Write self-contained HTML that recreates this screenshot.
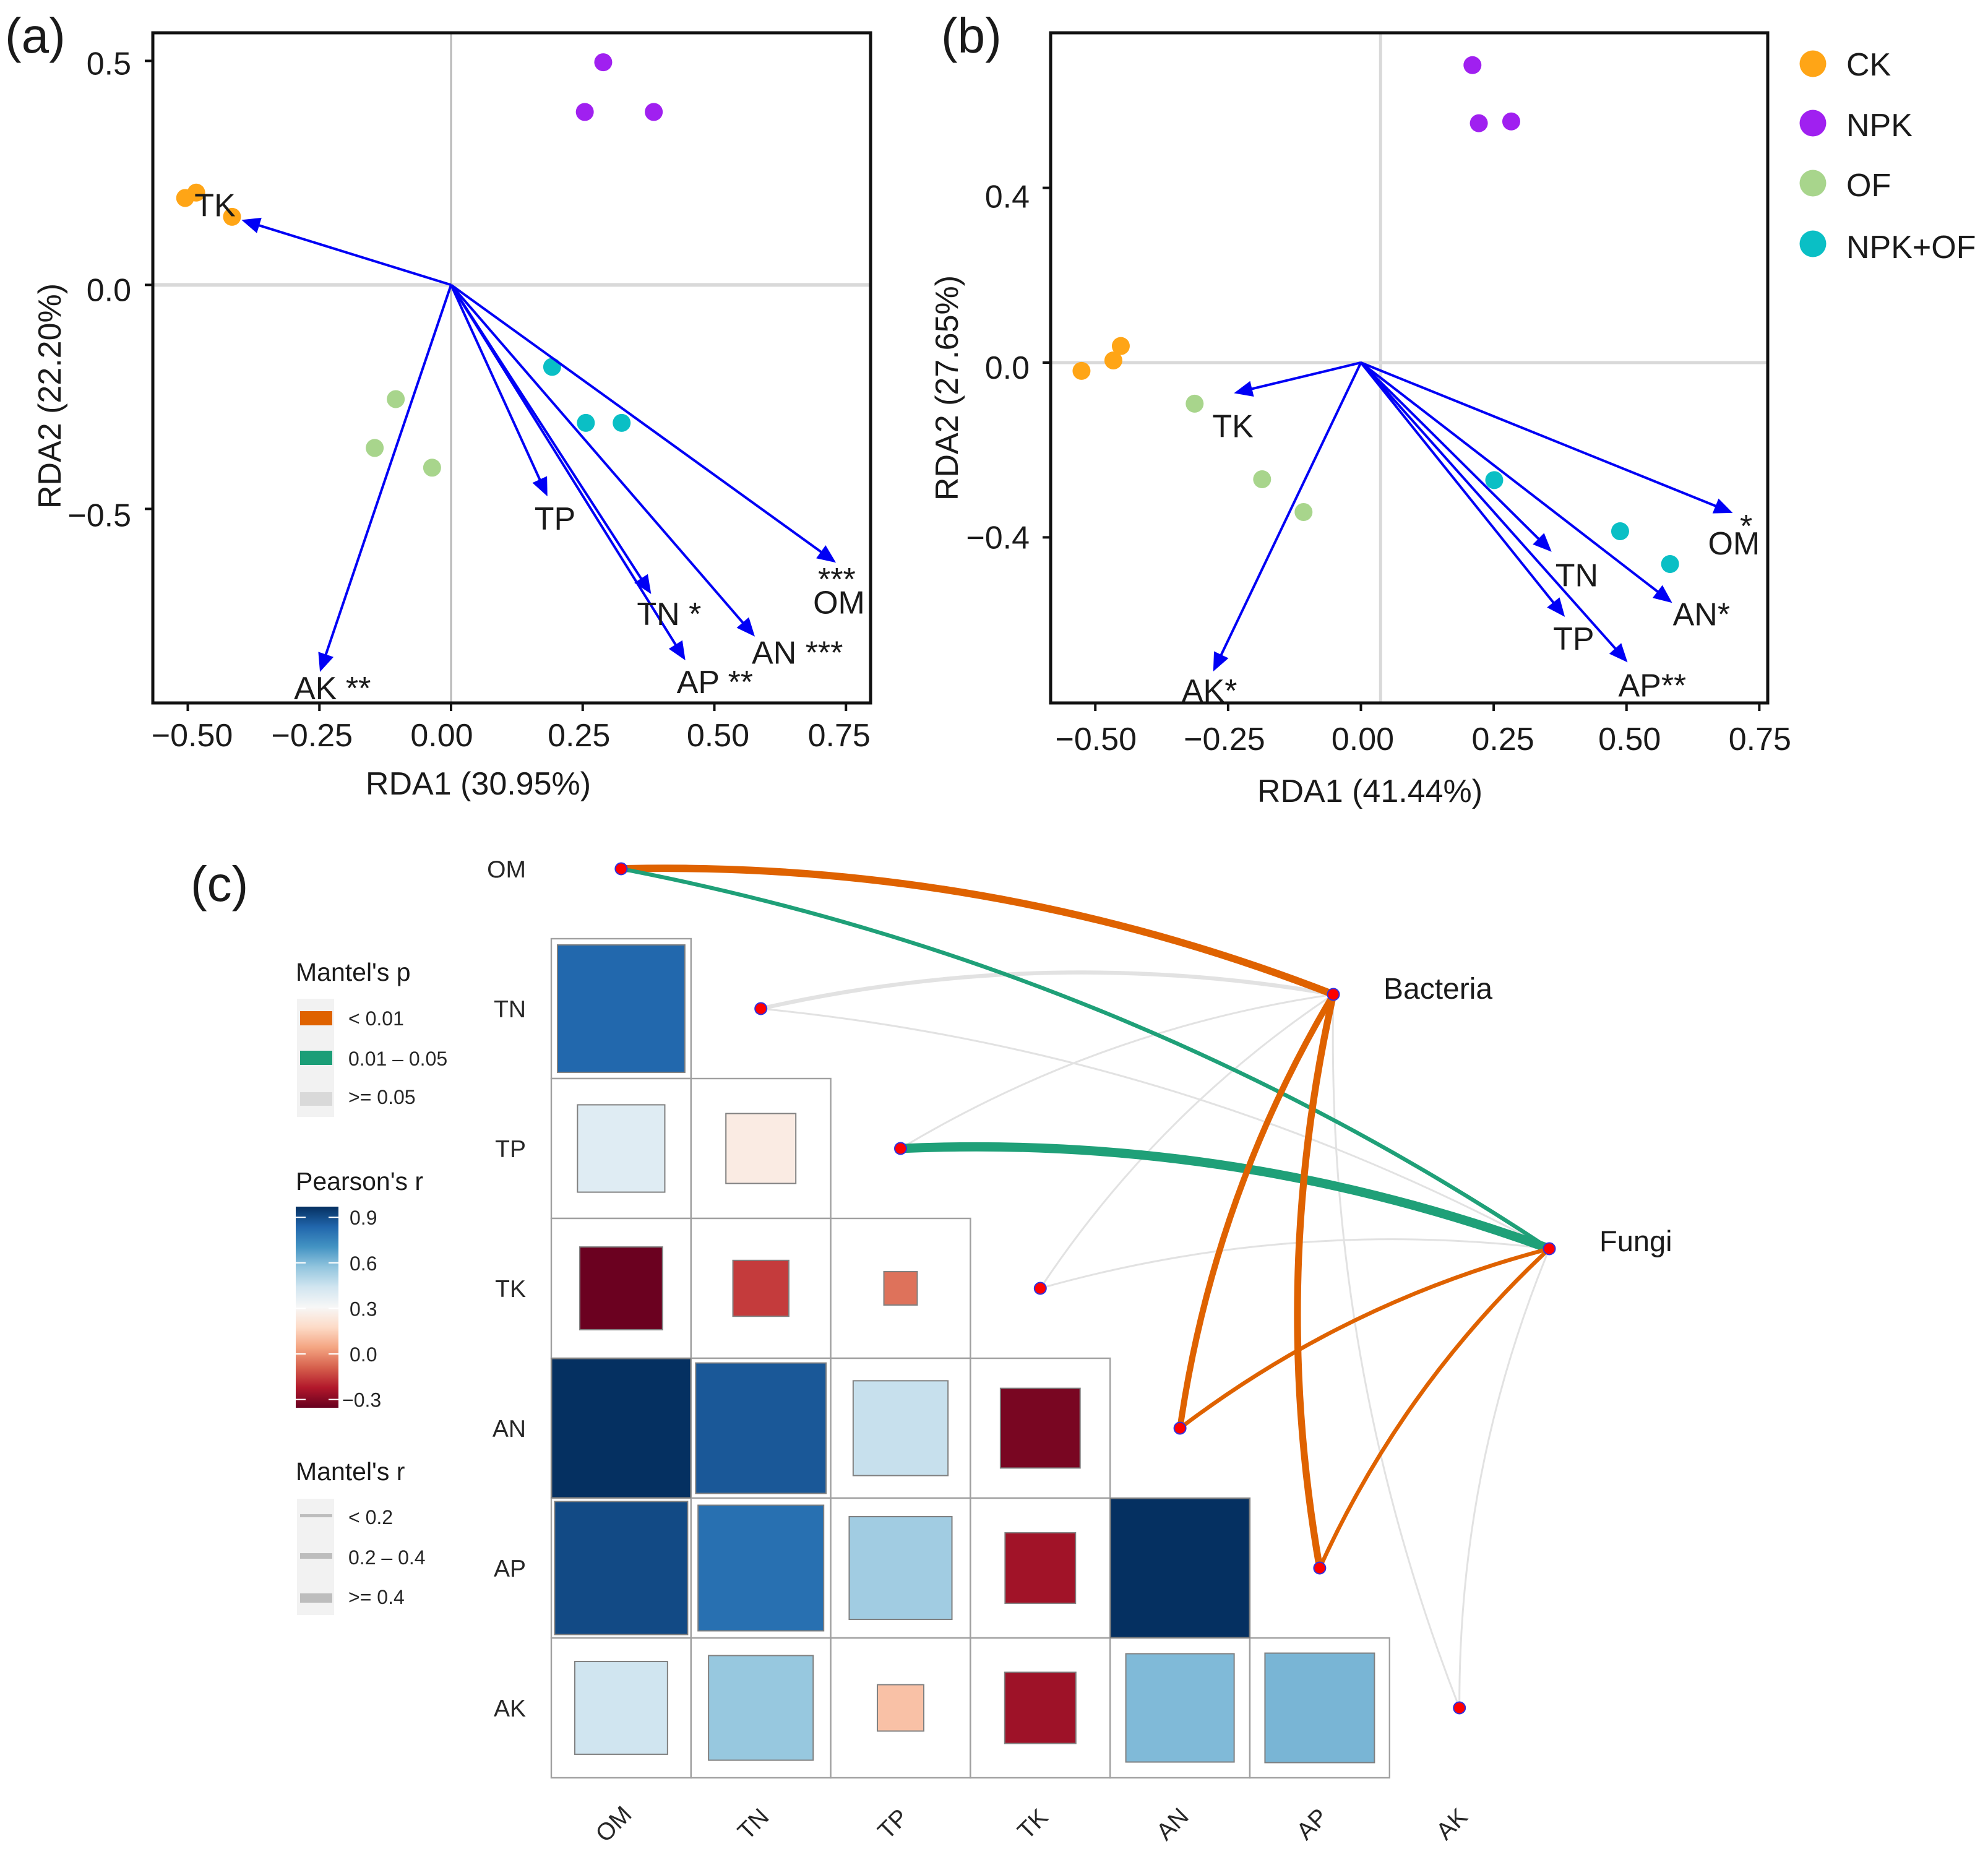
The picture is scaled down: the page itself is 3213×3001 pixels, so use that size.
<!DOCTYPE html>
<html lang="en">
<head>
<meta charset="utf-8">
<title>RDA and Mantel test figure</title>
<style>
  html, body { margin: 0; padding: 0; background: #fff; }
  svg { display: block; }
  text { font-family: "Liberation Sans", sans-serif; fill: #1a1a1a; }
  .panel { font-size: 80px; }
  .tick { font-size: 52px; }
  .title { font-size: 52px; }
  .ltitle { font-size: 41px; }
  .lkey { font-size: 32px; fill: #262626; }
  .var { font-size: 39px; fill: #262626; }
</style>
</head>
<body>
<svg id="fig" xmlns="http://www.w3.org/2000/svg" width="3213" height="3001" viewBox="0 0 3213 3001">
  <defs id="defs"></defs>
  <rect x="0" y="0" width="3213" height="3001" fill="#fff"/>

  <text class="panel" x="8" y="85">(a)</text>
  <text class="panel" x="1521" y="85">(b)</text>
  <text class="panel" x="308" y="1456">(c)</text>

  <g id="panelA"></g>
  <g id="panelB"></g>

  <text class="title" x="773" y="1284" text-anchor="middle">RDA1 (30.95%)</text>
  <text class="title" transform="translate(98 640) rotate(-90)" text-anchor="middle">RDA2 (22.20%)</text>
  <text class="title" x="2214" y="1296" text-anchor="middle">RDA1 (41.44%)</text>
  <text class="title" transform="translate(1548 627) rotate(-90)" text-anchor="middle">RDA2 (27.65%)</text>

  <g>
    <circle cx="2930" cy="103" r="21.5" fill="#FFA516"/>
    <text class="tick" x="2984" y="122">CK</text>
    <circle cx="2930" cy="199" r="21.5" fill="#A020F0"/>
    <text class="tick" x="2984" y="220">NPK</text>
    <circle cx="2930" cy="296" r="21.5" fill="#A8D58C"/>
    <text class="tick" x="2984" y="317">OF</text>
    <circle cx="2930" cy="394" r="21.5" fill="#0ABFC5"/>
    <text class="tick" x="2984" y="417">NPK+OF</text>
  </g>

  <g id="panelC"></g>

  <g>
    <text class="ltitle" x="478" y="1585">Mantel's p</text>
    <rect x="480" y="1614" width="60" height="191" fill="#f2f2f2"/>
    <rect x="485" y="1634" width="52" height="23" fill="#DF6200"/>
    <rect x="485" y="1698" width="52" height="23" fill="#1B9E77"/>
    <rect x="485" y="1765" width="52" height="22" fill="#d9d9d9"/>
    <text class="lkey" x="563" y="1657">&lt; 0.01</text>
    <text class="lkey" x="563" y="1722">0.01 – 0.05</text>
    <text class="lkey" x="563" y="1784">&gt;= 0.05</text>
  </g>

  <g id="colorbar">
    <text class="ltitle" x="478" y="1923">Pearson's r</text>
  </g>

  <g>
    <text class="ltitle" x="478" y="2392">Mantel's r</text>
    <rect x="480" y="2422" width="60" height="188" fill="#f2f2f2"/>
    <rect x="485" y="2447" width="52" height="5" fill="#bdbdbd"/>
    <rect x="485" y="2510" width="52" height="9" fill="#bdbdbd"/>
    <rect x="485" y="2575" width="52" height="15" fill="#bdbdbd"/>
    <text class="lkey" x="563" y="2463">&lt; 0.2</text>
    <text class="lkey" x="563" y="2528">0.2 – 0.4</text>
    <text class="lkey" x="563" y="2592">&gt;= 0.4</text>
  </g>
</svg>

<script>
/* ---------- Panel (a) data ---------- */
var groupNames = ['CK', 'NPK', 'OF', 'NPK+OF'];
var sitesAx = [[-0.505, -0.484, -0.416], [0.289, 0.254, 0.385], [-0.105, -0.145, -0.036], [0.192, 0.256, 0.324]];
var sitesAy = [[0.194, 0.206, 0.152], [0.497, 0.386, 0.386], [-0.255, -0.364, -0.408], [-0.183, -0.308, -0.308]];
var arrowNames = ['TK', 'OM', 'AN', 'AP', 'TN', 'TP', 'AK'];
var arrowsAx = [-0.398, 0.731, 0.577, 0.445, 0.380, 0.183, -0.249];
var arrowsAy = [0.145, -0.620, -0.785, -0.838, -0.690, -0.472, -0.864];
var arrowLabelsA = ['TK', 'OM', 'AN ***', 'AP **', 'TN *', 'TP', 'AK **'];
var xTicksA = [-0.5, -0.25, 0, 0.25, 0.5, 0.75];
var xTickLabelsA = ['\u22120.50', '\u22120.25', '0.00', '0.25', '0.50', '0.75'];
var yTicksA = [0.5, 0, -0.5];
var yTickLabelsA = ['0.5', '0.0', '\u22120.5'];

/* ---------- Panel (b) data ---------- */
var sitesBx = [[-0.452, -0.466, -0.526], [0.210, 0.222, 0.283], [-0.313, -0.186, -0.108], [0.251, 0.488, 0.582]];
var sitesBy = [[0.038, 0.005, -0.019], [0.681, 0.548, 0.552], [-0.094, -0.267, -0.342], [-0.269, -0.386, -0.461]];
var arrowsBx = [-0.239, 0.700, 0.586, 0.502, 0.359, 0.384, -0.278];
var arrowsBy = [-0.070, -0.344, -0.550, -0.686, -0.433, -0.582, -0.707];
var arrowLabelsB = ['TK', 'OM', 'AN*', 'AP**', 'TN', 'TP', 'AK*'];
var xTicksB = [-0.5, -0.25, 0, 0.25, 0.5, 0.75];
var xTickLabelsB = ['\u22120.50', '\u22120.25', '0.00', '0.25', '0.50', '0.75'];
var yTicksB = [0.4, 0, -0.4];
var yTickLabelsB = ['0.4', '0.0', '\u22120.4'];

/* ---------- Panel (c) data ---------- */
var variables = ['OM', 'TN', 'TP', 'TK', 'AN', 'AP', 'AK'];
var rTN = [0.83];
var rTP = [0.39, 0.25];
var rTK = [-0.35, -0.16, -0.057];
var rAN = [0.99, 0.87, 0.46, -0.325];
var rAP = [0.905, 0.807, 0.54, -0.254, 0.99];
var rAK = [0.44, 0.56, 0.11, -0.259, 0.60, 0.613];
var linkSources = ['TN', 'TN', 'TP', 'TK', 'TK', 'AK', 'AK', 'OM', 'OM', 'TP', 'AN', 'AN', 'AP', 'AP'];
var linkTargets = ['Bacteria', 'Fungi', 'Bacteria', 'Bacteria', 'Fungi', 'Bacteria', 'Fungi', 'Bacteria', 'Fungi', 'Fungi', 'Bacteria', 'Fungi', 'Bacteria', 'Fungi'];
var mantelP = [0.12, 0.30, 0.40, 0.50, 0.60, 0.50, 0.50, 0.001, 0.03, 0.02, 0.002, 0.004, 0.001, 0.005];
var mantelR = [0.25, 0.10, 0.10, 0.08, 0.07, 0.08, 0.09, 0.45, 0.25, 0.50, 0.42, 0.27, 0.44, 0.28];
var colorbarTicks = [0.9, 0.6, 0.3, 0.0, -0.3];
var colorbarLabels = ['0.9', '0.6', '0.3', '0.0', '\u22120.3'];

/* ---------- Helpers ---------- */
var NS = 'http://www.w3.org/2000/svg';
function mk(parent, tag, attrs, txt) {
  var el = document.createElementNS(NS, tag);
  for (var k in attrs) { el.setAttribute(k, attrs[k]); }
  if (txt !== undefined) { el.textContent = txt; }
  parent.appendChild(el);
  return el;
}
var groupColors = ['#FFA516', '#A020F0', '#A8D58C', '#0ABFC5'];

function drawRDA(cfg) {
  var g = cfg.g;
  var X = cfg.X, Y = cfg.Y;
  var el;
  el = mk(g, 'rect', {x: cfg.L, y: cfg.T, width: cfg.R - cfg.L, height: cfg.B - cfg.T, fill: '#fff'});
  
  
  el = mk(g, 'line', {x1: cfg.L, x2: cfg.R, y1: Y(0), y2: Y(0), stroke: '#d9d9d9', 'stroke-width': cfg.hw});
  
  
  el = mk(g, 'line', {x1: X(cfg.vAt), x2: X(cfg.vAt), y1: cfg.T, y2: cfg.B, stroke: cfg.vc, 'stroke-width': cfg.vw});
  
  

  cfg.sx.forEach(function (xs, gi) {
    xs.forEach(function (v, i) {
      var c = mk(g, 'circle', {cx: X(v), cy: Y(cfg.sy[gi][i]), r: 14.5, fill: groupColors[gi]});
      
      
    });
  });

  arrowNames.forEach(function (name, i) {
    var x2 = X(cfg.ax[i]), y2 = Y(cfg.ay[i]), x1 = X(0), y1 = Y(0);
    var d = Math.hypot(x2 - x1, y2 - y1), ux = (x2 - x1) / d, uy = (y2 - y1) / d;
    var line = mk(g, 'line', {x1: x1, y1: y1, x2: x2 - ux * 14, y2: y2 - uy * 14, stroke: '#0000F5', 'stroke-width': 4});
    
    
    var bx = x2 - ux * 30, by = y2 - uy * 30, w = 13;
    var head = mk(g, 'polygon', {points: x2 + ',' + y2 + ' ' + (bx - uy * w) + ',' + (by + ux * w) + ' ' + (bx + uy * w) + ',' + (by - ux * w), fill: '#0000F5'});
    
    
    var lab = mk(g, 'text', {class: 'tick', x: x2 + cfg.ldx[i], y: y2 + cfg.ldy[i]}, cfg.labels[i]);
    
    
  });

  var fr = mk(g, 'rect', {x: cfg.L, y: cfg.T, width: cfg.R - cfg.L, height: cfg.B - cfg.T, fill: 'none', stroke: '#111', 'stroke-width': 5});
  
  

  cfg.xt.forEach(function (v, i) {
    var t = mk(g, 'line', {x1: X(v), x2: X(v), y1: cfg.B, y2: cfg.B + 13, stroke: '#111', 'stroke-width': 4});
    
    
    var l = mk(g, 'text', {class: 'tick', x: X(v) + cfg.xn[i], y: cfg.xb, 'text-anchor': 'middle'}, cfg.xl[i]);
    
    
  });
  cfg.yt.forEach(function (v, i) {
    var t = mk(g, 'line', {x1: cfg.L - 13, x2: cfg.L, y1: Y(v), y2: Y(v), stroke: '#111', 'stroke-width': 4});
    
    
    var l = mk(g, 'text', {class: 'tick', x: cfg.yr, y: Y(v) + cfg.yn[i], 'text-anchor': 'end'}, cfg.yl[i]);
    
    
  });
}

/* Panel a */
var xA = function (v) { return 729 + 851 * v; };
var yA = function (v) { return 460.4 - 724 * v; };
drawRDA({
  g: document.getElementById('panelA'), X: xA, Y: yA,
  L: 247, R: 1407, T: 53, B: 1136, hw: 6, vw: 3, vc: '#b8b8b8', vAt: 0,
  sx: sitesAx, sy: sitesAy, ax: arrowsAx, ay: arrowsAy, labels: arrowLabelsA,
  ldx: [-76, -37, -5, -14, -23, -21, -42],
  ldy: [-6, 82, 44, 53, 50, 54, 44],
  xt: xTicksA, xl: xTickLabelsA, xn: [7, -12, -15, -6, 6, -11], xb: 1206,
  yt: yTicksA, yl: yTickLabelsA, yn: [22, 26, 28], yr: 212
});
var omStarsA = mk(document.getElementById('panelA'), 'text', {class: 'tick', x: 1322, y: 954}, '***');



/* Panel b */
var xB = function (v) { return 2199.5 + 858.5 * v; };
var yB = function (v) { return 586 - 706 * v; };
drawRDA({
  g: document.getElementById('panelB'), X: xB, Y: yB,
  L: 1698, R: 2857, T: 53, B: 1136, hw: 5, vw: 5, vc: '#d9d9d9', vAt: 0.037,
  sx: sitesBx, sy: sitesBy, ax: arrowsBx, ay: arrowsBy, labels: arrowLabelsB,
  ldx: [-35, -40, 1, -15, 6, -19, -51],
  ldy: [71, 67, 36, 55, 56, 53, 49],
  xt: xTicksB, xl: xTickLabelsB, xn: [1, -6, 3, 15, 5, 1], xb: 1212,
  yt: yTicksB, yl: yTickLabelsB, yn: [32, 26, 18], yr: 1664
});
var omStarB = mk(document.getElementById('panelB'), 'text', {class: 'tick', x: 2812, y: 868}, '*');



/* Panel c */
var rdBu = ['#67001F', '#B2182B', '#D6604D', '#F4A582', '#FDDBC7', '#F7F7F7', '#D1E5F0', '#92C5DE', '#4393C3', '#2166AC', '#053061'];
var colorMin = -0.357, colorMax = 0.968;
function hexToRgb(h) { return [parseInt(h.substr(1, 2), 16), parseInt(h.substr(3, 2), 16), parseInt(h.substr(5, 2), 16)]; }
function colorOf(r) {
  var t = Math.min(1, Math.max(0, (r - colorMin) / (colorMax - colorMin))) * 10;
  var i = Math.min(9, Math.floor(t)), f = t - i;
  var a = hexToRgb(rdBu[i]), b = hexToRgb(rdBu[i + 1]);
  return 'rgb(' + [0, 1, 2].map(function (k) { return Math.round(a[k] + (b[k] - a[k]) * f); }).join(',') + ')';
}
var C0 = 891, R0 = 1291, CELL_W = 225.8, CELL_H = 226;
function colX(i) { return C0 + CELL_W * i + CELL_W / 2; }
function rowY(i) { return R0 + CELL_H * i + CELL_H / 2; }
var gC = document.getElementById('panelC');
var matrixRows = [[], rTN, rTP, rTK, rAN, rAP, rAK];

matrixRows.forEach(function (row, ri) {
  row.forEach(function (v, ci) {
    var cell = mk(gC, 'rect', {x: C0 + CELL_W * ci, y: R0 + CELL_H * ri, width: CELL_W, height: CELL_H, fill: '#fff', stroke: '#a0a0a0', 'stroke-width': 2.4});
    
    
  });
});
matrixRows.forEach(function (row, ri) {
  row.forEach(function (v, ci) {
    var s = 226 * Math.min(1, Math.sqrt(Math.abs(v)));
    var sq = mk(gC, 'rect', {x: colX(ci) - s / 2, y: rowY(ri) - s / 2, width: s, height: s, fill: colorOf(v), stroke: '#808080', 'stroke-width': 2});
    
    
  });
});

var nodePos = {Bacteria: [2155, 1607], Fungi: [2504, 2018]};
function varPos(name) { var i = variables.indexOf(name); return [colX(i), rowY(i)]; }
function pColor(p) { return p < 0.01 ? '#DF6200' : (p < 0.05 ? '#1FA078' : '#e2e2e2'); }
function rWidth(r) { return r < 0.2 ? 3 : (r < 0.4 ? 6.5 : 10 + (r - 0.42) * 60); }
linkSources.forEach(function (src, i) {
  var a = varPos(src), b = nodePos[linkTargets[i]];
  var dx = b[0] - a[0], dy = b[1] - a[1];
  var cx = (a[0] + b[0]) / 2 + dy * 0.1, cy = (a[1] + b[1]) / 2 - dx * 0.1;
  var p = mk(gC, 'path', {d: 'M' + a[0] + ' ' + a[1] + ' Q' + cx + ' ' + cy + ' ' + b[0] + ' ' + b[1], fill: 'none', stroke: pColor(mantelP[i]), 'stroke-width': rWidth(mantelR[i])});
  
  
});

variables.forEach(function (name, i) {
  var d = mk(gC, 'circle', {cx: colX(i), cy: rowY(i), r: 9.5, fill: '#FF0000', stroke: '#3030E0', 'stroke-width': 2});
  
  
  var rl = mk(gC, 'text', {class: 'var', x: 850, y: rowY(i) + 14, 'text-anchor': 'end'}, name);
  
  
  var cl = mk(gC, 'text', {class: 'var', 'text-anchor': 'middle', transform: 'translate(' + (colX(i) - 3) + ' 2957) rotate(-45)'}, name);
  
  
});

Object.keys(nodePos).forEach(function (n) {
  var d = mk(gC, 'circle', {cx: nodePos[n][0], cy: nodePos[n][1], r: 9.5, fill: '#FF0000', stroke: '#3030E0', 'stroke-width': 2});
  
  
});
var lbB = mk(gC, 'text', {x: 2236, y: 1614, 'font-size': 48}, 'Bacteria');


var lbF = mk(gC, 'text', {x: 2585, y: 2022, 'font-size': 47}, 'Fungi');



/* Colorbar */
var grad = mk(document.getElementById('defs'), 'linearGradient', {id: 'rdbu', x1: 0, y1: 1, x2: 0, y2: 0});
rdBu.forEach(function (c, i) {
  mk(grad, 'stop', {offset: (i * 10) + '%', 'stop-color': c});
});
var gBar = document.getElementById('colorbar');
var barRect = mk(gBar, 'rect', {x: 478, y: 1950, width: 69, height: 325, fill: 'url(#rdbu)'});


function barY(v) { return 2188 - v * 245.3; }
colorbarTicks.forEach(function (v, i) {
  var y = barY(v);
  var t1 = mk(gBar, 'line', {x1: 478, x2: 494, y1: y, y2: y, stroke: '#fff', 'stroke-width': 2});
  
  
  var t2 = mk(gBar, 'line', {x1: 531, x2: 547, y1: y, y2: y, stroke: '#fff', 'stroke-width': 2});
  
  
  var l = mk(gBar, 'text', {class: 'lkey', x: v < 0 ? 553 : 565, y: y + 12}, colorbarLabels[i]);
  
  
});
</script>
</body>
</html>
